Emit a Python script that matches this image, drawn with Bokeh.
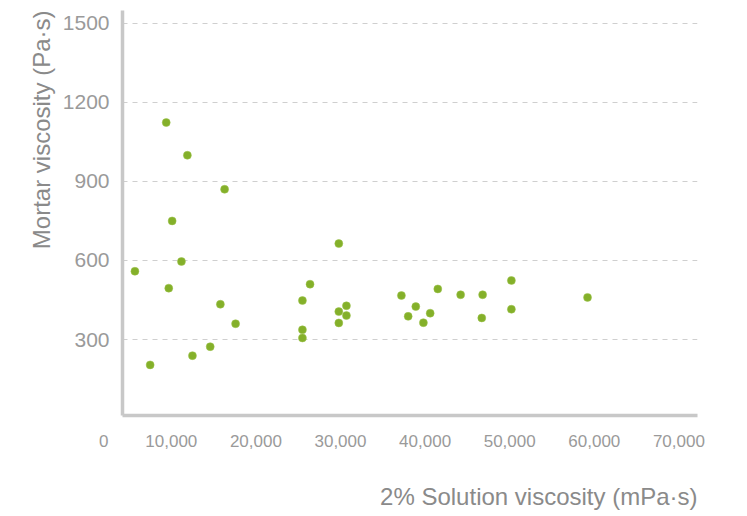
from bokeh.plotting import figure
from bokeh.models import Range1d, FixedTicker, NumeralTickFormatter, Title, ColumnDataSource
from bokeh.embed import file_html
from bokeh.resources import INLINE

# data
solution_visc = [9400, 11900, 16300, 10100, 29800, 11200, 5700, 9700, 7500, 12500,
                 14600, 15800, 17600, 25500, 26400, 25500, 25500, 29800, 30700, 30700,
                 29800, 37200, 38000, 38900, 39800, 40600, 41500, 44200, 46800, 46700,
                 50200, 50200, 59200]
mortar_visc = [1123, 999, 870, 750, 664, 596, 559, 495, 204, 239,
               273, 434, 360, 448, 510, 337, 306, 406, 428, 391,
               363, 467, 388, 425, 364, 400, 492, 470, 470, 382,
               524, 415, 460]
x_ticks = [10000, 20000, 30000, 40000, 50000, 60000, 70000]
y_ticks = [300, 600, 900, 1200, 1500]
x_title = "2% Solution viscosity (mPa·s)"
y_title = "Mortar viscosity (Pa·s)"

FONT = "Liberation Sans"
TICK_COLOR = "#9a9a9a"
TITLE_COLOR = "#8a8a8a"

X_START, X_END = 4232, 72199
p = figure(width=745, height=516, output_backend="svg", toolbar_location=None,
           x_range=Range1d(X_START, X_END), y_range=Range1d(12, 1548),
           min_border_left=122, min_border_right=48, min_border_top=10, min_border_bottom=101)
p.outline_line_color = None

src = ColumnDataSource(dict(x=solution_visc, y=mortar_visc))
p.scatter("x", "y", source=src, size=8, fill_color="#84b02a", line_color="#9cc24a", line_width=0.5)

for ax in (p.xaxis[0], p.yaxis[0]):
    ax.axis_line_color = "#c8c8c8"
    ax.axis_line_width = 3.5
    ax.major_tick_line_color = None
    ax.minor_tick_line_color = None
    ax.major_label_text_color = TICK_COLOR
    ax.major_label_text_font = FONT

# the "0" label of the reference sits left of the axis corner; place it on a tick at the range start
zero_tick = X_START + 1
p.xaxis.ticker = FixedTicker(ticks=[zero_tick] + x_ticks)
p.xaxis.formatter = NumeralTickFormatter(format="0,0")
p.xaxis.major_label_overrides = {zero_tick: "0" + "\u00a0" * 8}
p.xaxis.major_label_text_font_size = "17px"
p.xaxis.major_tick_out = 0
p.xaxis.major_label_standoff = 16

p.yaxis.ticker = FixedTicker(ticks=y_ticks)
p.yaxis.major_label_text_font_size = "21px"
p.yaxis.major_label_standoff = 7

p.xgrid.grid_line_color = None
p.ygrid.ticker = FixedTicker(ticks=y_ticks)
p.ygrid.grid_line_color = "#cfcfcf"
p.ygrid.grid_line_dash = "5 5"
p.ygrid.grid_line_width = 1

p.add_layout(Title(text=y_title, align="right", standoff=10, text_font=FONT,
                   text_font_size="24px", text_font_style="normal", text_color=TITLE_COLOR), "left")
# invisible spacer between tick labels and the x title
p.add_layout(Title(text="\u00a0", standoff=1, text_font=FONT, text_font_size="17px"), "below")
p.add_layout(Title(text=x_title, align="right", standoff=10, text_font=FONT,
                   text_font_size="24px", text_font_style="normal", text_color=TITLE_COLOR), "below")

open("out.html", "w").write(file_html(p, INLINE))
